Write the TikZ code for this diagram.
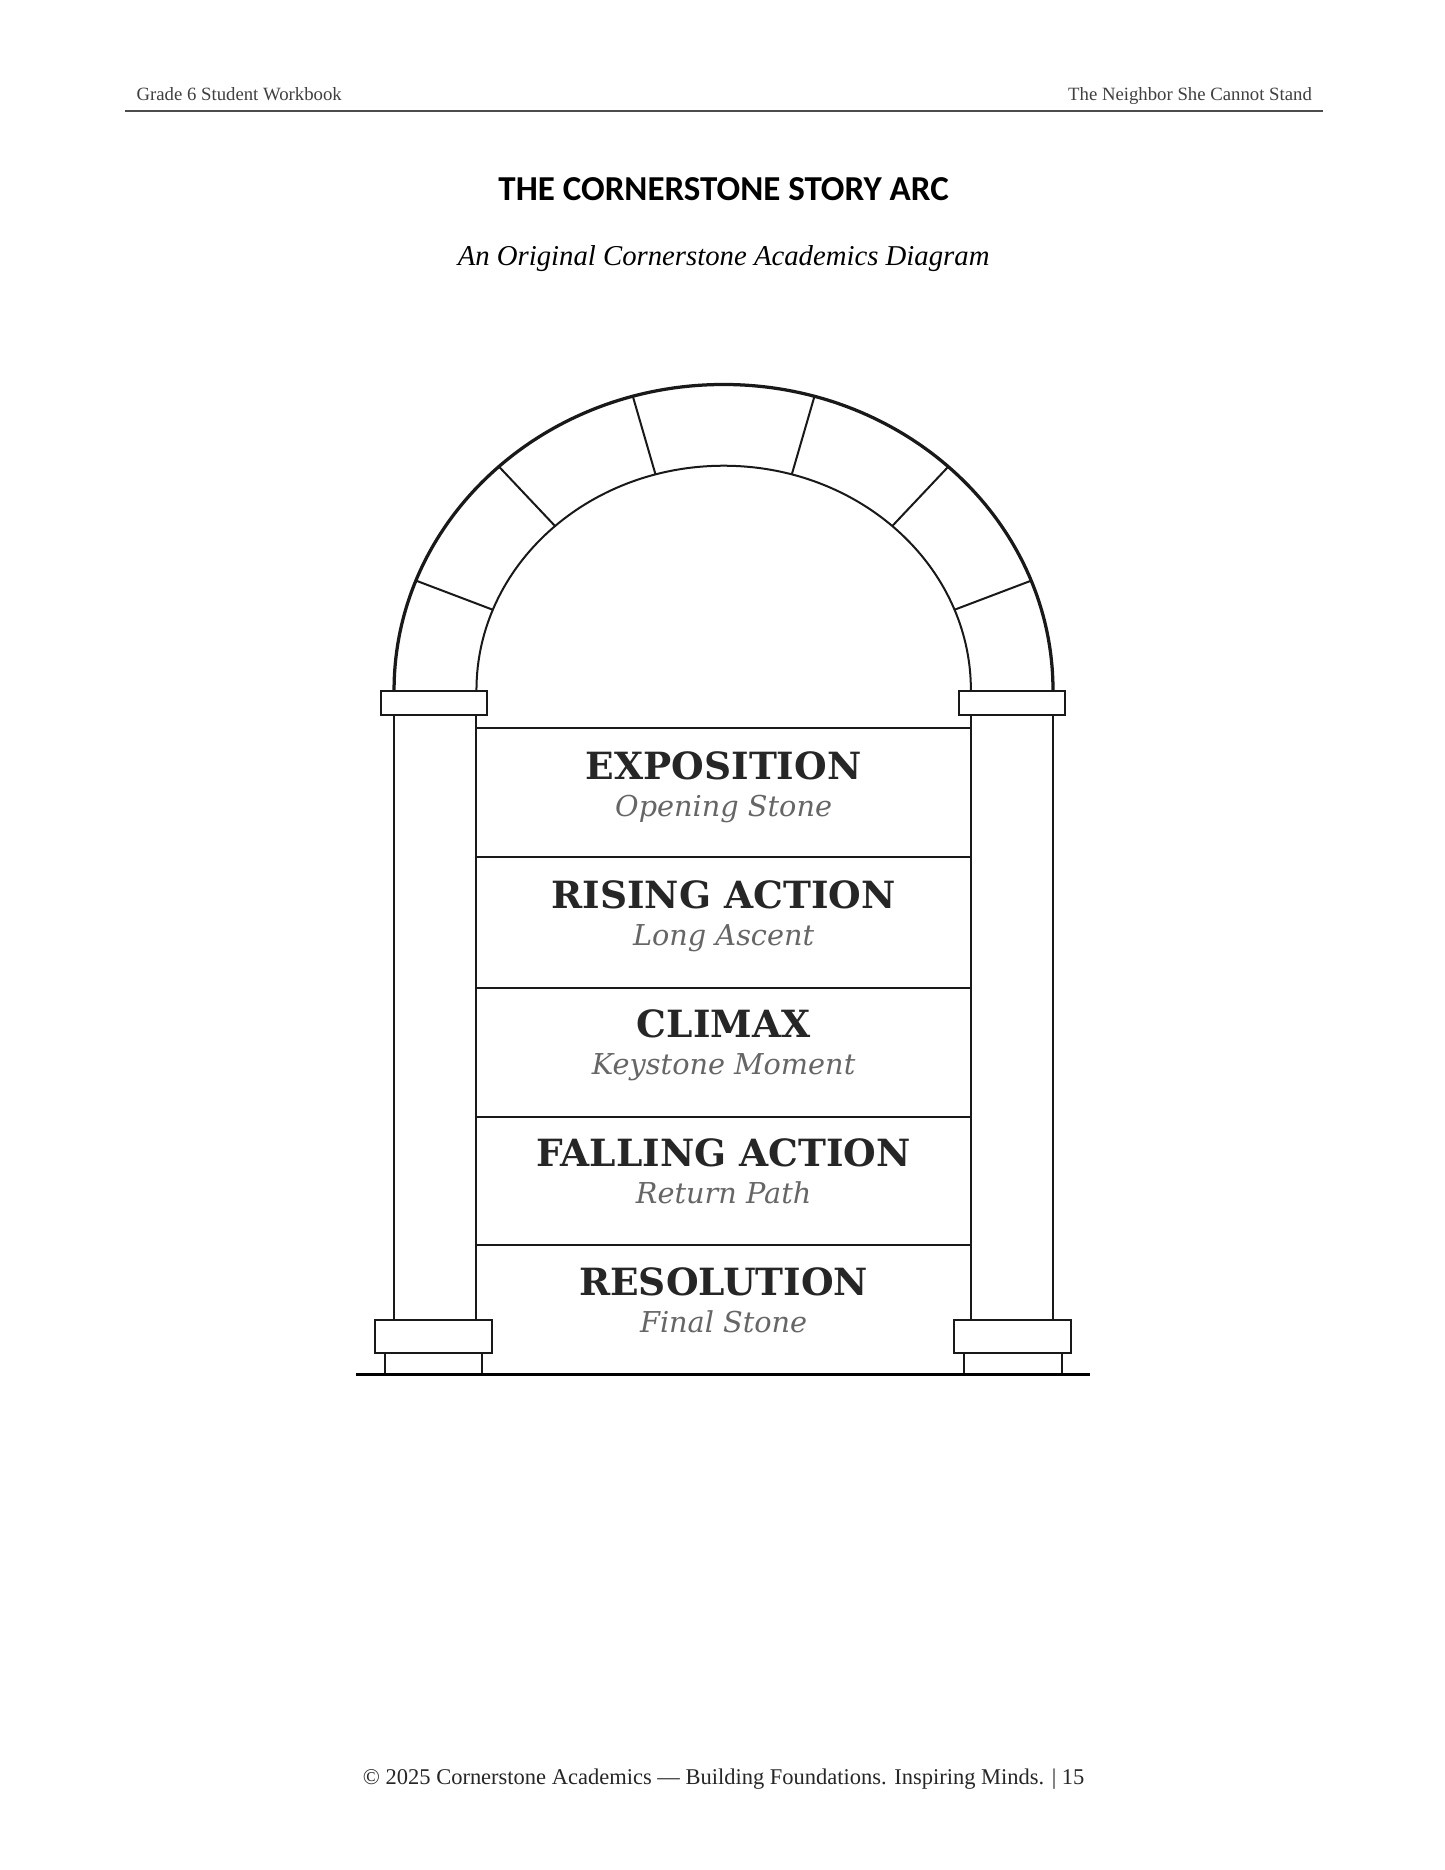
\documentclass[tikz,border=0pt]{standalone}
\usepackage{fontspec}
\setmainfont{Liberation Serif}
\newfontfamily\titlefont{Carlito}
\newfontfamily\labfont{DejaVu Serif}
\begin{document}
\begin{tikzpicture}[x=0.4777pt,y=-0.4777pt,
  thin line/.style={line width=0.8pt,draw=black!90},
  thick line/.style={line width=1.3pt,draw=black!90},
  lab/.style={font=\labfont\bfseries\fontsize{15}{17}\selectfont,text=black!85,anchor=base},
  sublab/.style={font=\labfont\itshape\fontsize{11.5}{13}\selectfont,text=black!60,anchor=base}]
\useasboundingbox[fill=white] (0,0) rectangle (1210,1566);
% header
\node[anchor=base west,font=\fontsize{7.5}{9}\selectfont,text=black!75] (hl) at (107,84) {Grade 6 Student Workbook};
\node[anchor=base east,font=\fontsize{7.5}{9}\selectfont,text=black!75] (hr) at (1106,84) {The Neighbor She Cannot Stand};
\draw[line width=0.5pt,black!70] (105,93) -- (1108,93);
\node[anchor=base,font=\titlefont\bfseries\fontsize{14}{16}\selectfont] (title) at (606,168) {THE CORNERSTONE STORY ARC};
\node[anchor=base,font=\itshape\fontsize{11.5}{13}\selectfont] (sub) at (606,222) {An Original Cornerstone Academics Diagram};
% arch
\coordinate (c) at (606,578);
\draw[thick line] (330,578) arc[start angle=180,end angle=0,x radius=131.8pt,y radius=122.3pt];
\draw[thin line] (399,578) arc[start angle=180,end angle=0,x radius=98.9pt,y radius=89.8pt];
\foreach \a in {21,47,74,106,133,159}
  \draw[thin line] ([shift={(\a:98.9pt and 89.8pt)}]c) -- ([shift={(\a:131.8pt and 122.3pt)}]c);
% capitals
\draw[thin line,fill=white] (319,579) rectangle (408,599);
\draw[thin line,fill=white] (803,579) rectangle (892,599);
% columns
\draw[thin line] (330,599) -- (330,1105) (399,599) -- (399,1105);
\draw[thin line] (813,599) -- (813,1105) (882,599) -- (882,1105);
% panels
\draw[thin line] (399,610) -- (813,610);
\foreach \yy in {718,827,935,1043} \draw[thin line] (399,\yy) -- (813,\yy);
% bases
\draw[thin line,fill=white] (314,1105) rectangle (412,1133);
\draw[thin line] (322,1133) rectangle (404,1151);
\draw[thin line,fill=white] (799,1105) rectangle (897,1133);
\draw[thin line] (807,1133) rectangle (889,1151);
\draw[line width=1pt] (298,1151) -- (913,1151);
% labels
\node[lab] (l1) at (606,653) {EXPOSITION};
\node[sublab] (s1) at (606,684) {Opening Stone};
\node[lab] (l2) at (606,761) {RISING ACTION};
\node[sublab] (s2) at (606,792) {Long Ascent};
\node[lab] (l3) at (606,869) {CLIMAX};
\node[sublab] (s3) at (606,900) {Keystone Moment};
\node[lab] (l4) at (606,977) {FALLING ACTION};
\node[sublab] (s4) at (606,1008) {Return Path};
\node[lab] (l5) at (606,1085) {RESOLUTION};
\node[sublab] (s5) at (606,1116) {Final Stone};
% footer
\node[anchor=base,font=\fontsize{9}{11}\selectfont,text=black!85] (foot) at (606,1494) {\textcopyright{} 2025 Cornerstone Academics — Building Foundations. Inspiring Minds. | 15};
\end{tikzpicture}
\end{document}
